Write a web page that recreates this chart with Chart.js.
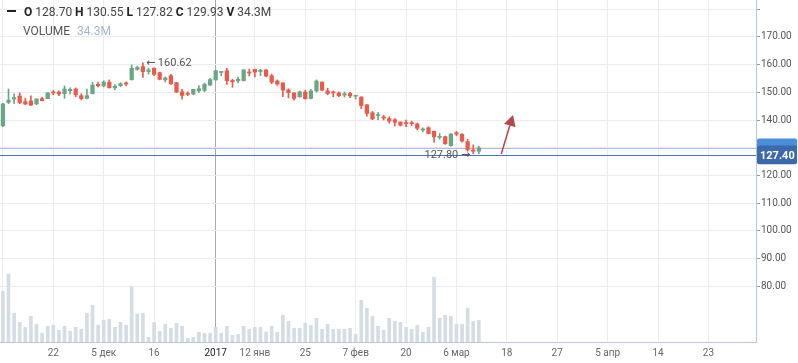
<!DOCTYPE html>
<html>
<head>
<meta charset="utf-8">
<script src="https://cdn.jsdelivr.net/npm/chart.js@4.4.1/dist/chart.umd.min.js"></script>
<style>
  html, body { margin: 0; padding: 0; background: #fff; }
  #wrap { width: 798px; height: 363px; }
</style>
</head>
<body>
<div id="wrap"><canvas id="c" width="798" height="363"></canvas></div>
<script>
const OPEN = [137.9,146.4,147.6,148.7,146.6,146.9,145.8,147.7,147.7,150.1,150.1,149.5,150.6,151.2,148.8,147.8,149.5,152.9,152.3,153.7,
  151.6,152.4,153.4,154.6,158.3,159.3,157.5,158.7,157.1,154.5,156.0,153.5,150.2,149.6,149.4,150.5,150.7,152.6,154.5,157.2,
  157.8,154.3,154.2,154.2,157.3,158.3,157.5,158.1,156.0,154.1,153.4,150.9,149.8,148.4,150.1,147.8,150.5,153.7,150.5,150.0,
  149.8,149.0,149.6,148.6,148.3,145.5,142.6,141.6,141.1,140.5,140.1,139.3,139.0,139.0,138.6,136.4,137.2,135.9,133.7,134.0,
  130.7,135.4,134.8,132.2,129.2,128.70];
const HIGH = [146.0,151.2,149.5,149.8,147.9,148.7,147.7,148.2,149.9,150.7,150.5,152.3,151.6,151.6,149.5,151.2,153.6,153.7,154.2,154.5,
  152.8,153.5,153.8,159.9,159.5,160.62,158.7,158.9,157.3,155.6,156.5,153.6,151.1,150.2,151.1,152.4,153.3,155.1,158.1,157.6,
  158.7,154.7,155.5,158.2,158.4,158.4,158.3,158.2,156.6,154.5,153.5,151.3,149.9,150.5,150.8,151.1,154.5,153.8,151.5,150.5,
  150.2,150.1,150.0,148.8,148.4,145.6,143.1,142.8,141.7,141.2,140.5,139.3,140.0,139.6,138.9,137.2,137.6,136.0,135.1,134.2,
  135.1,135.9,135.1,133.0,131.0,130.55];
const LOW = [137.6,145.9,145.9,145.9,145.5,145.2,145.5,146.9,147.7,149.1,148.8,147.8,149.4,148.4,147.3,147.6,149.4,152.0,152.0,151.5,
  151.0,152.0,152.3,154.4,158.0,155.4,156.6,156.0,154.5,153.7,152.9,149.9,147.5,148.8,149.2,149.9,150.2,152.5,154.3,156.0,
  152.9,151.8,153.4,154.1,155.9,155.6,156.0,155.6,153.1,152.5,148.4,148.0,147.2,148.2,147.5,147.6,150.1,150.5,149.1,148.4,
  148.4,148.3,148.1,147.6,144.1,141.4,140.1,140.1,140.0,138.8,137.9,137.8,137.6,137.9,136.4,135.7,135.0,132.0,133.1,131.2,
  130.5,134.3,132.0,128.7,127.8,127.82];
const CLOSE = [145.8,147.2,148.1,146.3,145.8,145.4,147.6,147.0,149.8,149.8,149.4,151.2,151.1,149.1,147.7,148.8,152.6,152.4,153.7,151.7,
  152.2,153.1,153.0,158.7,159.0,157.5,158.1,156.5,154.7,155.2,153.1,150.1,148.9,149.3,151.1,151.3,152.9,154.6,157.8,157.5,
  154.2,153.8,154.7,158.1,157.0,157.3,158.0,155.9,153.7,153.0,150.8,149.9,147.8,150.2,147.7,150.5,154.1,150.8,149.6,149.8,
  148.8,149.5,148.7,148.8,145.2,142.4,140.4,141.9,140.7,139.6,139.2,138.1,138.7,138.7,137.0,136.7,135.1,133.9,134.1,131.4,
  134.9,134.9,132.4,129.2,128.7,129.93];
// volume, millions
const VOLUME = [80.2,107.1,45.4,31.1,23.2,40.6,28.0,13.7,24.8,26.4,18.5,24.8,16.9,23.2,20.1,45.4,58.0,26.4,34.3,35.9,
  23.2,31.1,26.4,87.1,44.3,45.4,7.4,31.1,16.9,28.0,21.6,29.6,24.8,5.8,7.4,15.3,13.7,13.7,23.2,13.7,
  24.8,10.6,12.1,24.8,20.1,23.2,23.2,15.8,24.8,15.3,42.2,32.7,21.6,21.6,29.6,26.4,37.5,20.1,28.0,20.1,
  20.1,20.1,21.6,12.1,66.0,53.3,40.6,24.8,18.5,37.5,32.7,31.1,23.2,20.1,26.4,15.3,23.2,102.4,37.5,42.2,
  40.6,28.0,28.0,53.3,32.7,34.3];

const X_TICKS = [0, 9, 18, 27, 38, 45, 54, 63, 72, 81, 90, 99, 108, 117, 126];
const X_TICK_LABELS = ['', '22', '5 дек', '16', '2017', '12 янв', '25', '7 фев', '20', '6 мар', '18', '27', '5 апр', '14', '23'];
const YEAR_TICK = 38;
const PRICE_TICKS = [80, 90, 100, 110, 120, 130, 140, 150, 160, 170, 180];
const LAST_PRICE = 127.40;
const ARROW_START = [89.0, 127.7];
const ARROW_END = [91.1, 141.8];

const UP = '#6aa685', DOWN = '#e85a4c';
const candleColors = OPEN.map((o, i) => CLOSE[i] >= o ? UP : DOWN);
const last = CLOSE.length - 1;
const FONT = 'Roboto, "DejaVu Sans", sans-serif';

Chart.defaults.font.family = FONT;

const overlay = {
  id: 'overlay',
  beforeDatasetsDraw(chart) {
    const { ctx, chartArea: a, scales: { y } } = chart;
    ctx.save();
    ctx.lineWidth = 1;
    [[CLOSE[last], '#a5bfe4'], [LAST_PRICE, '#4673bb']].forEach(([p, col]) => {
      const py = Math.round(y.getPixelForValue(p)) + 0.5;
      ctx.strokeStyle = col;
      ctx.beginPath(); ctx.moveTo(a.left, py); ctx.lineTo(a.right, py); ctx.stroke();
    });
    ctx.restore();
  },
  afterDraw(chart) {
    const { ctx, chartArea: a, scales: { x, y } } = chart;
    ctx.save();

    // max / min markers
    let iMax = 0, iMin = 0;
    HIGH.forEach((h, i) => { if (h > HIGH[iMax]) iMax = i; });
    LOW.forEach((l, i) => { if (l < LOW[iMin]) iMin = i; });
    ctx.font = '11px ' + FONT;
    ctx.fillStyle = '#555';
    ctx.textBaseline = 'middle';
    ctx.textAlign = 'left';
    ctx.fillText('\u2190 ' + HIGH[iMax].toFixed(2), x.getPixelForValue(iMax) + 3, y.getPixelForValue(HIGH[iMax]));
    ctx.textAlign = 'right';
    ctx.fillText(LOW[iMin].toFixed(2) + ' \u2192', x.getPixelForValue(iMin) - 3, y.getPixelForValue(LOW[iMin]) + 1);

    // drawn arrow
    const x0 = x.getPixelForValue(ARROW_START[0]), y0 = y.getPixelForValue(ARROW_START[1]);
    const x1 = x.getPixelForValue(ARROW_END[0]), y1 = y.getPixelForValue(ARROW_END[1]);
    const ang = Math.atan2(y1 - y0, x1 - x0);
    const hl = 11, hw = 6;
    const bx = x1 - hl * Math.cos(ang), by = y1 - hl * Math.sin(ang);
    ctx.strokeStyle = '#b4474b';
    ctx.fillStyle = '#b4474b';
    ctx.lineWidth = 1.5;
    ctx.beginPath(); ctx.moveTo(x0, y0); ctx.lineTo(bx, by); ctx.stroke();
    ctx.beginPath();
    ctx.moveTo(x1, y1);
    ctx.lineTo(bx + hw * Math.sin(ang), by - hw * Math.cos(ang));
    ctx.lineTo(bx - hw * Math.sin(ang), by + hw * Math.cos(ang));
    ctx.closePath(); ctx.fill();

    // price boxes on the axis
    const box = (p, col, txt) => {
      const cy = y.getPixelForValue(p);
      ctx.fillStyle = col;
      ctx.beginPath();
      ctx.roundRect(a.right + 1, cy - 9.3, 40, 18.6, 2);
      ctx.fill();
      if (txt) {
        ctx.fillStyle = '#fff';
        ctx.font = 'bold 11px ' + FONT;
        ctx.textAlign = 'left';
        ctx.textBaseline = 'middle';
        ctx.fillText(txt, a.right + 4, cy + 1);
      }
    };
    box(CLOSE[last], '#4a8edb', '');
    box(LAST_PRICE, '#3b69a9', LAST_PRICE.toFixed(2));

    // legend header
    ctx.textAlign = 'left';
    ctx.textBaseline = 'alphabetic';
    ctx.fillStyle = '#222';
    ctx.fillRect(7, 10, 9, 2);
    const run = (parts, px, py) => {
      parts.forEach(([t, bold, col]) => {
        ctx.font = (bold ? 'bold ' : '') + '12px ' + FONT;
        ctx.fillStyle = col;
        ctx.fillText(t, px, py);
        px += ctx.measureText(t).width;
      });
    };
    run([['O', 1, '#222'], [' ' + OPEN[last].toFixed(2) + ' ', 0, '#444'],
         ['H', 1, '#222'], [' ' + HIGH[last].toFixed(2) + ' ', 0, '#444'],
         ['L', 1, '#222'], [' ' + LOW[last].toFixed(2) + ' ', 0, '#444'],
         ['C', 1, '#222'], [' ' + CLOSE[last].toFixed(2) + ' ', 0, '#444'],
         ['V', 1, '#222'], [' ' + VOLUME[last].toFixed(1) + 'M', 0, '#444']], 24, 15.5);
    run([['VOLUME', 0, '#555']], 23, 34.5);
    run([[VOLUME[last].toFixed(1) + 'M', 0, '#a6b7cd']], 77, 34.5);
    ctx.restore();
  }
};

new Chart(document.getElementById('c'), {
  type: 'bar',
  data: {
    datasets: [
      {
        label: 'Volume',
        data: VOLUME.map((v, i) => ({ x: i, y: v })),
        yAxisID: 'yv',
        backgroundColor: '#d4dce5',
        barThickness: 3,
        grouped: false,
        order: 3
      },
      {
        label: 'Wick',
        data: LOW.map((l, i) => ({ x: i, y: [l, HIGH[i]] })),
        yAxisID: 'y',
        backgroundColor: candleColors,
        barThickness: 1,
        grouped: false,
        order: 2
      },
      {
        label: 'Body',
        data: OPEN.map((o, i) => ({ x: i, y: [o, CLOSE[i]] })),
        yAxisID: 'y',
        backgroundColor: candleColors,
        barThickness: 3.6,
        minBarLength: 1,
        grouped: false,
        order: 1
      }
    ]
  },
  options: {
    responsive: false,
    animation: false,
    events: [],
    layout: { padding: 0, autoPadding: false },
    plugins: { legend: { display: false }, tooltip: { enabled: false } },
    scales: {
      x: {
        type: 'linear',
        min: -0.52, max: 134.5,
        offset: false,
        afterBuildTicks: s => { s.ticks = X_TICKS.map(v => ({ value: v })); },
        afterFit: s => { s.height = 21; s.paddingLeft = 0; s.paddingRight = 0; },
        grid: {
          offset: false,
          drawTicks: false,
          color: c => (c.tick && c.tick.value === YEAR_TICK) ? '#a8a8a8' : '#ececec'
        },
        border: { color: '#b9c8d9' },
        ticks: {
          autoSkip: false, maxRotation: 0, padding: 5,
          font: { size: 10 },
          color: c => (c.tick && c.tick.value === YEAR_TICK) ? '#222' : '#666',
          callback: v => X_TICK_LABELS[X_TICKS.indexOf(v)] || ''
        }
      },
      y: {
        position: 'right',
        min: 59.77, max: 183.37,
        afterBuildTicks: s => { s.ticks = PRICE_TICKS.map(v => ({ value: v })); },
        afterFit: s => { s.width = 42; s.paddingTop = 0; s.paddingBottom = 0; },
        grid: { color: '#ececec', tickLength: 4, tickColor: '#999' },
        border: { color: '#b9c8d9' },
        ticks: {
          padding: 1,
          font: { size: 10 },
          color: '#555',
          callback: v => v === 180 ? '' : v.toFixed(2)
        }
      },
      yv: {
        display: false,
        min: 0, max: 540
      }
    }
  },
  plugins: [overlay]
});
</script>
</body>
</html>
